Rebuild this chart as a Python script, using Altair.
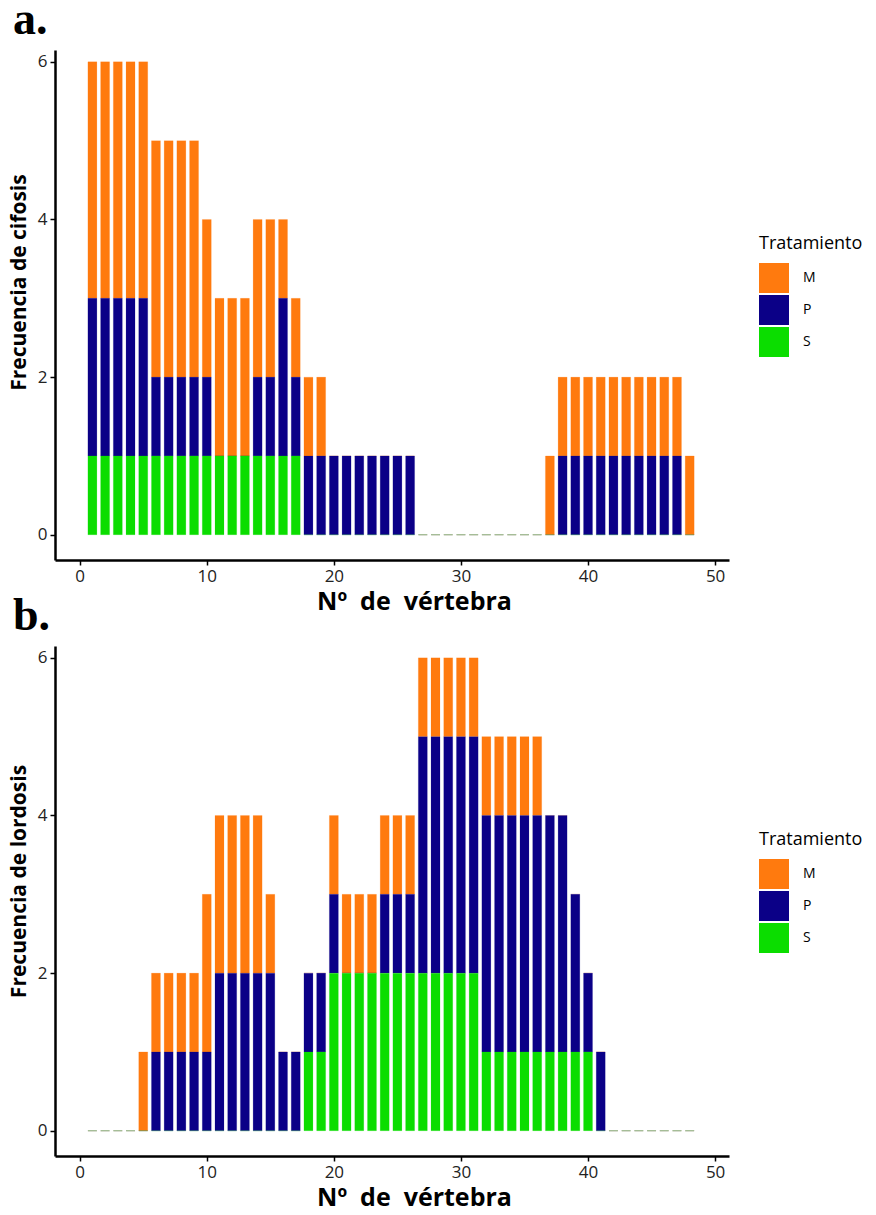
import altair as alt
import pandas as pd

vertebra = list(range(1, 49))

# Panel a: cifosis (counts per vertebra, per treatment)
a_M = [3]*5 + [3]*4 + [2] + [2]*3 + [2]*2 + [1] + [1] + [1]*2 + [0]*7 + [0]*10 + [1] + [1]*10 + [1]
a_P = [2]*5 + [1]*4 + [1] + [0]*3 + [1]*2 + [2] + [1] + [1]*2 + [1]*7 + [0]*10 + [0] + [1]*10 + [0]
a_S = [1]*5 + [1]*4 + [1] + [1]*3 + [1]*2 + [1] + [1] + [0]*2 + [0]*7 + [0]*10 + [0] + [0]*10 + [0]

# Panel b: lordosis
b_M = [0]*4 + [1] + [1]*4 + [2] + [2]*4 + [1] + [0]*2 + [0]*2 + [1] + [1]*3 + [1]*3 + [1]*5 + [1]*5 + [0]*2 + [0] + [0] + [0] + [0]*7
b_P = [0]*4 + [0] + [1]*4 + [1] + [2]*4 + [2] + [1]*2 + [1]*2 + [1] + [0]*3 + [1]*3 + [3]*5 + [3]*5 + [3]*2 + [2] + [1] + [1] + [0]*7
b_S = [0]*4 + [0] + [0]*4 + [0] + [0]*4 + [0] + [0]*2 + [1]*2 + [2] + [2]*3 + [2]*3 + [2]*5 + [1]*5 + [1]*2 + [1] + [1] + [0] + [0]*7

treatments = ["M", "P", "S"]
stack_rank = {"S": 0, "P": 1, "M": 2}
colors = ["#FF7A0E", "#0B0087", "#0BDD00"]

x_ticks = [0, 10, 20, 30, 40, 50]
y_ticks = [0, 2, 4, 6]


def long_table(M, P, S):
    rows = []
    for t, vals in (("M", M), ("P", P), ("S", S)):
        for v, n in zip(vertebra, vals):
            rows.append({"vertebra": v, "Tratamiento": t, "freq": n, "rank": stack_rank[t]})
    return pd.DataFrame(rows)


FONT = "Open Sans"
XTITLE = "Nº\u00a0\u00a0de\u00a0\u00a0vértebra"


def panel(df, ytitle, tag, ytitle_y):
    color = alt.Color(
        "Tratamiento:N",
        scale=alt.Scale(domain=treatments, range=colors),
        legend=alt.Legend(
            title="Tratamiento", orient="none", legendX=704, legendY=185,
            titleFontSize=18, titleFontWeight="normal", titleColor="black", titleFont=FONT,
            titlePadding=10, symbolType="square", symbolSize=900, symbolStrokeWidth=0,
            symbolOpacity=1, labelFontSize=14, labelFont=FONT, labelColor="black",
            labelOffset=14, rowPadding=2,
        ),
    )
    bars = alt.Chart(df).mark_bar(size=9, strokeWidth=1, strokeOpacity=0.15).encode(
        x=alt.X("vertebra:Q",
                scale=alt.Scale(domain=[-1.55, 50.7], nice=False, zero=False),
                axis=alt.Axis(values=x_ticks, title=XTITLE, titleX=359,
                              titleFontSize=25, titleFontWeight="bold", titleFont=FONT,
                              titleColor="black", titlePadding=5,
                              labelFontSize=17, labelFont=FONT, labelColor="#222",
                              labelPadding=3, tickSize=5, tickWidth=1.5, tickColor="black",
                              domainColor="black", domainWidth=2.5, grid=False)),
        y=alt.Y("freq:Q", stack="zero",
                scale=alt.Scale(domain=[-0.32, 6.15], nice=False, zero=False),
                axis=alt.Axis(values=y_ticks, title=ytitle, titleY=ytitle_y,
                              titleFontSize=21, titleFontWeight="bold", titleFont=FONT,
                              titleColor="black", titlePadding=8,
                              labelFontSize=17, labelFont=FONT, labelColor="#222",
                              labelPadding=3, tickSize=5, tickWidth=1.5, tickColor="black",
                              domainColor="black", domainWidth=2.5, grid=False)),
        color=color,
        stroke=alt.Stroke("Tratamiento:N", scale=alt.Scale(domain=treatments, range=colors), legend=None),
        order=alt.Order("rank:Q", sort="ascending"),
    )
    label = alt.Chart(pd.DataFrame({"t": [tag]})).mark_text(
        font="Liberation Serif", fontWeight="bold", fontSize=46, align="left",
        baseline="alphabetic", color="black"
    ).encode(text="t:N", x=alt.value(-42), y=alt.value(-16))
    return alt.layer(bars, label).properties(width=674, height=510)


top = panel(long_table(a_M, a_P, a_S), "Frecuencia de cifosis", "a.", 232)
bottom = panel(long_table(b_M, b_P, b_S), "Frecuencia de lordosis", "b.", 235)

chart = alt.vconcat(top, bottom, spacing=-21).resolve_scale(color="independent", stroke="independent").properties(
    padding={"left": 8, "top": -3, "right": 0, "bottom": 0}, background="white"
).configure_view(strokeWidth=0, stroke="transparent")

chart.save("out.html", embed_options={"renderer": "svg", "actions": False})
